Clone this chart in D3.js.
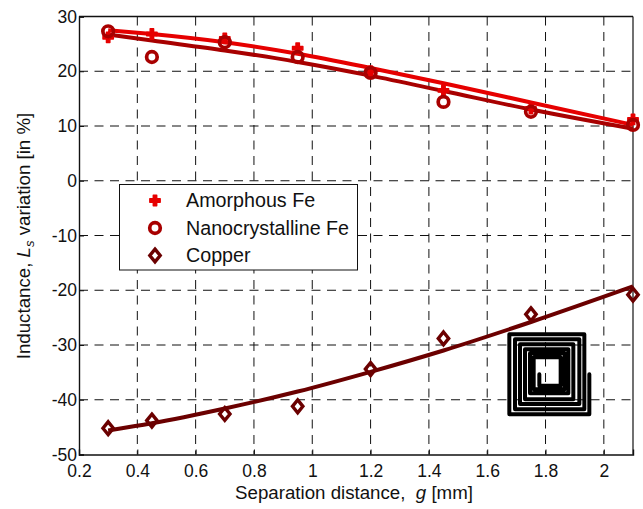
<!DOCTYPE html>
<html><head><meta charset="utf-8">
<script src="https://cdn.jsdelivr.net/npm/d3@7/dist/d3.min.js"></script>
<style>html,body{margin:0;padding:0;background:#fff}svg{display:block}text{font-family:"Liberation Sans",Arial,sans-serif;fill:#111}</style>
</head><body><svg id="c" width="643" height="509"></svg>
<script>
const gapValues=[0.3,0.45,0.7,0.95,1.2,1.45,1.75,2.1];
const amorphousPoints=[26.2,26.8,26,24.2,20,16.5,13.2,11.2];
const nanoPoints=[27.3,22.6,25.3,22.6,19.7,14.4,12.6,10.2];
const copperPoints=[-45.2,-43.8,-42.6,-41.2,-34.4,-28.8,-24.4,-20.8];
const amorphousFit=[27.5,26.8,25.3,23.2,20.6,17.8,14.3,10.2];
const nanoFit=[26.7,25.6,23.8,21.7,19.2,16.4,13,9.5];
const copperFit=[-45.6,-44.3,-41.6,-38.5,-34.9,-31,-25.8,-19.3];
const xTicks=[0.2,0.4,0.6,0.8,1,1.2,1.4,1.6,1.8,2];
const yTicks=[30,20,10,0,-10,-20,-30,-40,-50];
const legendLabels=["Amorphous Fe","Nanocrystalline Fe","Copper"];
const colors=["#e60000","#a80000","#6b0000"];
// coil inset, polyline vertices in icon units
const coilX=[298,298,58,58,283,283,75,75,268,268,90,90,250,250,105,105,235,235,120,120,224,224,131,131,212,212,148,148];
const coilY=[283,403,403,163,163,388,388,178,178,372,372,193,193,358,358,208,208,340,340,220,220,328,328,232,232,317,317,283];

const svg=d3.select("#c");
const L=79,R=633,T=16.5,B=454.5;
const x=d3.scaleLinear().domain([0.2,2.1]).range([L,R]);
const y=d3.scaleLinear().domain([-50,30]).range([B,T]);
const fs=17.5;

// grid
const grid=svg.append("g").attr("stroke","#111").attr("stroke-width",1).attr("stroke-dasharray","9,6.5");
grid.selectAll(".gx").data(xTicks.slice(1)).join("line").attr("x1",d=>x(d)).attr("x2",d=>x(d)).attr("y1",T).attr("y2",B);
grid.selectAll(".gy").data(yTicks.slice(1,-1)).join("line").attr("y1",d=>y(d)).attr("y2",d=>y(d)).attr("x1",L).attr("x2",R);

// axes
const ax=svg.append("g").attr("transform",`translate(0,${B})`).call(d3.axisBottom(x).tickValues(xTicks).tickSize(-5).tickPadding(10).tickFormat(d3.format("~g")));
const ay=svg.append("g").attr("transform",`translate(${L},0)`).call(d3.axisLeft(y).tickValues(yTicks).tickSize(-5).tickPadding(2).tickFormat(d=>d));
[ax,ay].forEach(a=>{a.selectAll("text").attr("font-size",fs).style("font-family",'"Liberation Sans",Arial,sans-serif').attr("fill","#111");
 a.selectAll("line").attr("stroke","#111");a.select(".domain").attr("stroke","#111").attr("stroke-width",1.4);});
svg.append("line").attr("x1",L).attr("x2",R).attr("y1",T).attr("y2",T).attr("stroke","#111").attr("stroke-width",1.4);
svg.append("line").attr("x1",R).attr("x2",R).attr("y1",T).attr("y2",B).attr("stroke","#111").attr("stroke-width",1.2);

// coil
const cx=d3.scaleLinear().domain([0,153]).range([490,541]);
const cy=d3.scaleLinear().domain([0,160]).range([280,333.33]);
const coilLine=d3.line().x(d=>cx(d[0])).y(d=>cy(d[1]));
svg.append("path").attr("d",coilLine(coilX.map((v,i)=>[v,coilY[i]])))
  .attr("fill","none").attr("stroke","#000").attr("stroke-width",4).attr("stroke-linejoin","round").attr("stroke-linecap","round");

// fit lines
const line=d3.line().x((d,i)=>x(gapValues[i])).y(d=>y(d)).curve(d3.curveMonotoneX);
[[amorphousFit,0],[nanoFit,1],[copperFit,2]].forEach(([s,c])=>{
  svg.append("path").attr("d",line(s)).attr("fill","none").attr("stroke",colors[c]).attr("stroke-width",4);
});

// markers
const plusPath=d3.symbol().type(d3.symbolCross).size(60)();
const diamondPath="M0,-6.4L5.2,0L0,6.4L-5.2,0Z";
function marker(g,k){
  if(k===0)g.append("path").attr("d",plusPath).attr("fill",colors[0]).attr("stroke",colors[0]).attr("stroke-width",1.4).attr("stroke-linejoin","round");
  if(k===1)g.append("circle").attr("r",5.3).attr("fill","none").attr("stroke",colors[1]).attr("stroke-width",3.7);
  if(k===2)g.append("path").attr("d",diamondPath).attr("fill","none").attr("stroke",colors[2]).attr("stroke-width",3.4);
}
[amorphousPoints,nanoPoints,copperPoints].forEach((s,k)=>{
  s.forEach((v,i)=>marker(svg.append("g").attr("transform",`translate(${x(gapValues[i])},${y(v)})`),k));
});

// legend
svg.append("rect").attr("x",119.5).attr("y",184.5).attr("width",238).attr("height",85.5).attr("fill","#fff").attr("stroke","#111").attr("stroke-width",1);
const rowY=d3.scalePoint().domain(legendLabels).range([200.5,255.5]);
legendLabels.forEach((t,k)=>{
  marker(svg.append("g").attr("transform",`translate(155,${rowY(t)})`),k);
  svg.append("text").attr("x",186).attr("y",rowY(t)+6.5).attr("font-size",19.7).text(t);
});

// axis titles
const xl=svg.append("text").attr("x",354).attr("y",499).attr("text-anchor","middle").attr("font-size",18.7).attr("xml:space","preserve");
xl.append("tspan").text("Separation distance,  ");
xl.append("tspan").attr("font-style","italic").text("g");
xl.append("tspan").text(" [mm]");
const yl=svg.append("text").attr("transform","translate(30,236) rotate(-90)").attr("text-anchor","middle").attr("font-size",18.7);
yl.append("tspan").text("Inductance, ");
yl.append("tspan").attr("font-style","italic").text("L");
yl.append("tspan").attr("font-style","italic").attr("font-size",13).attr("dy",4).text("s");
yl.append("tspan").attr("dy",-4).text(" variation [in %]");
</script></body></html>
